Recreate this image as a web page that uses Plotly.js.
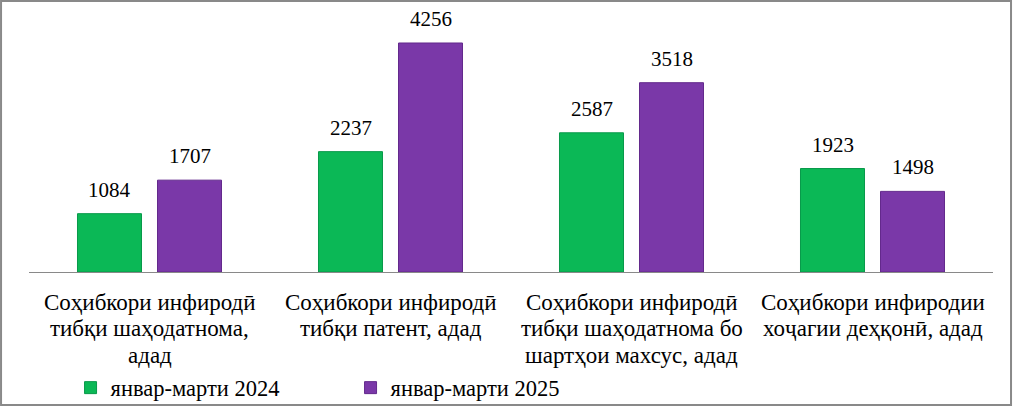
<!DOCTYPE html>
<html>
<head>
<meta charset="utf-8">
<script src="https://cdn.plot.ly/plotly-3.0.1.min.js"></script>
<style>html,body{margin:0;padding:0;background:#fff;}#chart{width:1014px;height:408px;}</style>
</head>
<body>
<div id="chart"></div>
<script>
const categories = ["cat1", "cat2", "cat3", "cat4"];
const tickLabels = [
  ["Соҳибкори инфиродӣ", "тибқи шаҳодатнома,", "адад"],
  ["Соҳибкори инфиродӣ", "тибқи патент, адад"],
  ["Соҳибкори инфиродӣ", "тибқи шаҳодатнома бо", "шартҳои махсус, адад"],
  ["Соҳибкори инфиродии", "хоҷагии деҳқонӣ, адад"]
];
const seriesNames = ["январ-марти 2024", "январ-марти 2025"];
const values2024 = [1084, 2237, 2587, 1923];
const values2025 = [1707, 4256, 3518, 1498];

const font = "'Liberation Serif', 'Times New Roman', serif";
const annotations = [];
[[values2024, -40], [values2025, 40]].forEach(([vals, dx]) => {
  vals.forEach((v, i) => {
    annotations.push({
      x: categories[i], y: v, xref: 'x', yref: 'y', text: String(v),
      showarrow: false, xshift: dx, yanchor: 'bottom', yshift: 10,
      font: {family: font, size: 21, color: '#000'}
    });
  });
});
tickLabels.forEach((lines, i) => {
  lines.forEach((line, k) => {
    annotations.push({
      x: categories[i], y: 0, xref: 'x', yref: 'paper', text: line,
      showarrow: false, yanchor: 'middle', yshift: -(30 + k * 26.5),
      font: {family: font, size: 23, color: '#000'}
    });
  });
});

const data = [
  {type: 'bar', name: seriesNames[0], x: categories, y: values2024,
   marker: {color: '#0bb856', line: {color: '#08994a', width: 1}}},
  {type: 'bar', name: seriesNames[1], x: categories, y: values2025,
   marker: {color: '#7a38a8', line: {color: '#63298c', width: 1}}}
];

const layout = {
  width: 1014, height: 408,
  margin: {l: 29, r: 21, t: 10, b: 136, autoexpand: false},
  paper_bgcolor: '#fff', plot_bgcolor: '#fff',
  barmode: 'group', bargap: 0.336, bargroupgap: 0.2,
  font: {family: font, color: '#000'},
  xaxis: {
    tickvals: categories, ticktext: categories.map(() => ''), ticks: '',
    showline: true, linecolor: '#898989', linewidth: 1,
    showgrid: false, zeroline: false, fixedrange: true
  },
  yaxis: {
    range: [0, 4869], visible: false, showgrid: false, zeroline: false
  },
  showlegend: true,
  legend: {
    orientation: 'h', x: 0.0431, xanchor: 'left',
    yref: 'container', y: 0.049, yanchor: 'middle',
    bgcolor: 'rgba(0,0,0,0)',
    font: {family: font, size: 22.5, color: '#000'},
    entrywidth: 235, entrywidthmode: 'pixels', traceorder: 'normal'
  },
  annotations: annotations,
  shapes: [{
    type: 'rect', xref: 'paper', yref: 'paper',
    x0: -0.0290, x1: 1.0187, y0: -0.5076, y1: 1.0344,
    line: {color: '#898989', width: 2}, fillcolor: 'rgba(0,0,0,0)', layer: 'above'
  }]
};

Plotly.newPlot('chart', data, layout, {displayModeBar: false, staticPlot: true});
</script>
</body>
</html>
